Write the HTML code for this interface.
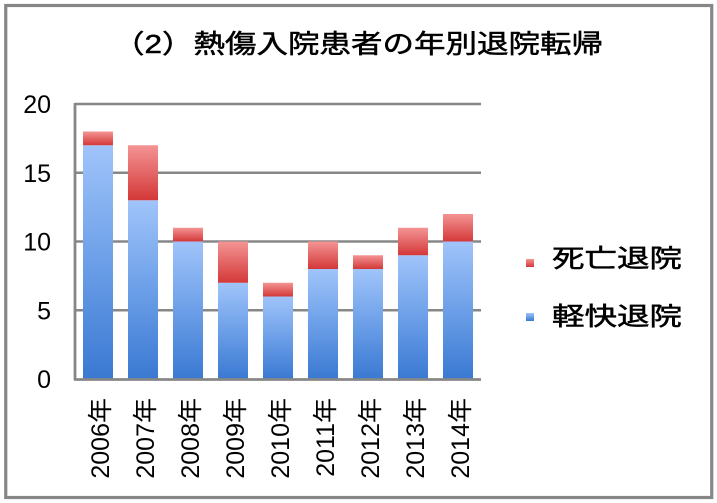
<!DOCTYPE html>
<html><head><meta charset="utf-8"><style>
html,body{margin:0;padding:0;background:#fff;}
svg{display:block;}
text{font-family:"Liberation Sans","Noto Sans CJK JP",sans-serif;fill:#000;}
.cjk{stroke:#000;stroke-width:0.5;}
</style></head><body>
<svg width="717" height="503" viewBox="0 0 717 503" xmlns="http://www.w3.org/2000/svg">
<defs>
<linearGradient id="gb" x1="0" y1="0" x2="0" y2="1">
<stop offset="0" stop-color="#a0c4fa"/><stop offset="0.5" stop-color="#6c9fe8"/><stop offset="1" stop-color="#3a79d2"/>
</linearGradient>
<linearGradient id="gr" x1="0" y1="0" x2="0" y2="1">
<stop offset="0" stop-color="#f49494"/><stop offset="1" stop-color="#d43838"/>
</linearGradient>
</defs>
<rect x="0" y="0" width="717" height="503" fill="#fff"/>
<rect x="5.75" y="5.5" width="706" height="492" fill="none" stroke="#878787" stroke-width="3.2"/>

<text class="cjk" x="113" y="53" font-size="26" textLength="490" lengthAdjust="spacingAndGlyphs">（2）熱傷入院患者の年別退院転帰</text>

<g stroke="#878787" stroke-width="2.6">
<line x1="75" y1="104" x2="481" y2="104"/>
<line x1="75" y1="172.75" x2="481" y2="172.75"/>
<line x1="75" y1="241.5" x2="481" y2="241.5"/>
<line x1="75" y1="310.25" x2="481" y2="310.25"/>
</g>

<g>
<rect x="83" y="145.25" width="30" height="233.75" fill="url(#gb)"/><rect x="83" y="131.5" width="30" height="13.75" fill="url(#gr)"/>
<rect x="128" y="200.25" width="30" height="178.75" fill="url(#gb)"/><rect x="128" y="145.25" width="30" height="55" fill="url(#gr)"/>
<rect x="173" y="241.5" width="30" height="137.5" fill="url(#gb)"/><rect x="173" y="227.75" width="30" height="13.75" fill="url(#gr)"/>
<rect x="218" y="282.75" width="30" height="96.25" fill="url(#gb)"/><rect x="218" y="241.5" width="30" height="41.25" fill="url(#gr)"/>
<rect x="263" y="296.5" width="30" height="82.5" fill="url(#gb)"/><rect x="263" y="282.75" width="30" height="13.75" fill="url(#gr)"/>
<rect x="308" y="269" width="30" height="110" fill="url(#gb)"/><rect x="308" y="241.5" width="30" height="27.5" fill="url(#gr)"/>
<rect x="353" y="269" width="30" height="110" fill="url(#gb)"/><rect x="353" y="255.25" width="30" height="13.75" fill="url(#gr)"/>
<rect x="398" y="255.25" width="30" height="123.75" fill="url(#gb)"/><rect x="398" y="227.75" width="30" height="27.5" fill="url(#gr)"/>
<rect x="443" y="241.5" width="30" height="137.5" fill="url(#gb)"/><rect x="443" y="214" width="30" height="27.5" fill="url(#gr)"/>
</g>

<g stroke="#878787" stroke-width="2.8">
<line x1="75" y1="103" x2="75" y2="380"/>
<line x1="74" y1="379.5" x2="481" y2="379.5"/>
</g>

<g font-size="25" text-anchor="end">
<text x="51" y="113">20</text>
<text x="51" y="181.75">15</text>
<text x="51" y="250.5">10</text>
<text x="51" y="319.25">5</text>
<text x="51" y="388">0</text>
</g>

<g font-size="25" text-anchor="end">
<text transform="translate(109,398) rotate(-90)">2006年</text>
<text transform="translate(154,398) rotate(-90)">2007年</text>
<text transform="translate(199,398) rotate(-90)">2008年</text>
<text transform="translate(244,398) rotate(-90)">2009年</text>
<text transform="translate(289,398) rotate(-90)">2010年</text>
<text transform="translate(334,398) rotate(-90)">2011年</text>
<text transform="translate(379,398) rotate(-90)">2012年</text>
<text transform="translate(424,398) rotate(-90)">2013年</text>
<text transform="translate(469,398) rotate(-90)">2014年</text>
</g>

<rect x="526" y="259" width="8" height="8" fill="url(#gr)"/>
<text class="cjk" x="552" y="267" font-size="25" textLength="130" lengthAdjust="spacingAndGlyphs">死亡退院</text>
<rect x="526" y="313" width="8" height="8" fill="url(#gb)"/>
<text class="cjk" x="552" y="325" font-size="25" textLength="130" lengthAdjust="spacingAndGlyphs">軽快退院</text>
</svg>
</body></html>
